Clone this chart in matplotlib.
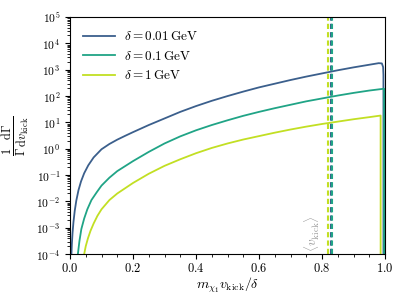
import numpy as np
import matplotlib
matplotlib.use("Agg")
import matplotlib.pyplot as plt
from matplotlib.ticker import MultipleLocator

plt.rcParams['font.family'] = 'serif'
plt.rcParams['font.serif'] = ['cmr10']
plt.rcParams['mathtext.fontset'] = 'cm'
plt.rcParams['axes.formatter.use_mathtext'] = True
plt.rcParams['axes.unicode_minus'] = False

# datos (x, log10 y)
x_001 = [0.004, 0.0045, 0.006, 0.008, 0.011, 0.015, 0.02, 0.027, 0.035, 0.045, 0.058,
         0.075, 0.1, 0.125, 0.15, 0.175, 0.2, 0.25, 0.3, 0.35, 0.4, 0.45, 0.5, 0.55,
         0.6, 0.65, 0.7, 0.75, 0.8, 0.85, 0.9, 0.95, 0.98, 0.99, 0.994, 0.995, 0.9951]
ly_001 = [-4.5, -4.0, -3.6, -3.2, -2.78, -2.36, -1.97, -1.57, -1.24, -0.93, -0.63,
          -0.33, -0.02, 0.18, 0.345, 0.49, 0.63, 0.9, 1.15, 1.4, 1.62, 1.82, 2.0, 2.17,
          2.33, 2.47, 2.61, 2.74, 2.86, 2.98, 3.09, 3.19, 3.25, 3.24, 3.1, 2.8, -5.0]

x_01 = [0.024, 0.025, 0.03, 0.036, 0.045, 0.055, 0.068, 0.085, 0.1, 0.125, 0.15,
        0.2, 0.25, 0.3, 0.35, 0.4, 0.45, 0.5, 0.55, 0.6, 0.65, 0.7, 0.75, 0.8,
        0.85, 0.9, 0.95, 0.997, 0.9971]
ly_01 = [-4.5, -4.0, -3.5, -3.05, -2.65, -2.3, -1.95, -1.65, -1.4, -1.1, -0.85,
         -0.47, -0.12, 0.2, 0.47, 0.7, 0.9, 1.08, 1.25, 1.4, 1.54, 1.67, 1.8, 1.91,
         2.02, 2.12, 2.21, 2.28, -5.0]

x_1 = [0.044, 0.045, 0.05, 0.057, 0.065, 0.075, 0.087, 0.1, 0.125, 0.15, 0.2,
       0.25, 0.3, 0.35, 0.4, 0.45, 0.5, 0.55, 0.6, 0.65, 0.7, 0.75, 0.8, 0.85,
       0.9, 0.95, 0.986, 0.9861]
ly_1 = [-4.5, -4.0, -3.7, -3.4, -3.12, -2.84, -2.55, -2.3, -1.95, -1.7, -1.3,
        -0.95, -0.65, -0.4, -0.17, 0.03, 0.2, 0.35, 0.48, 0.61, 0.73, 0.84, 0.94, 1.03,
        1.12, 1.2, 1.26, -5.0]

# valores medios de v_kick
vmedio = [0.827, 0.832, 0.820]

etiquetas = [r'$\delta = 0.01\,\mathrm{GeV}$', r'$\delta = 0.1\,\mathrm{GeV}$',
             r'$\delta = 1\,\mathrm{GeV}$']
colores = ['#3b5f8c', '#20a486', '#c2df23']

fig = plt.figure(figsize=(4.07, 3.05), dpi=100)
ax = fig.add_axes([0.172, 0.167, 0.774, 0.777])

series = [(x_001, ly_001), (x_01, ly_01), (x_1, ly_1)]
for (xs, ls), lab, c in zip(series, etiquetas, colores):
    ax.plot(xs, 10.0 ** np.array(ls), color=c, lw=1.3, label=lab)

for v, c in zip(vmedio, colores):
    ax.axvline(v, color=c, ls='--', lw=1.5, dashes=(2.5, 1.5))

ax.text(0.80, 1.2e-4, r'$\langle v_\mathrm{kick}\rangle$', rotation=90,
        ha='right', va='bottom', color='0.6', fontsize=9.5)

ax.set_yscale('log')
ax.set_xlim(0, 1)
ax.set_ylim(1e-4, 1e5)
ax.set_yticks([10.0 ** k for k in range(-4, 6)])
ax.xaxis.set_minor_locator(MultipleLocator(0.05))
ax.tick_params(axis='x', labelsize=9, pad=2.5)
ax.tick_params(axis='y', labelsize=8.3)

ax.set_xlabel(r'$m_{\chi_1} v_\mathrm{kick}/\delta$', fontsize=10, labelpad=0)
ax.set_ylabel(r'$\frac{1}{\Gamma}\frac{\mathrm{d}\Gamma}{\mathrm{d}v_\mathrm{kick}}$',
              fontsize=12.5)
ax.yaxis.set_label_coords(-0.125, 0.5)

ax.legend(loc='upper left', frameon=False, fontsize=9.5, handlelength=2.4,
          handletextpad=0.7, borderaxespad=0.6)

plt.savefig('out.png', dpi=100)
